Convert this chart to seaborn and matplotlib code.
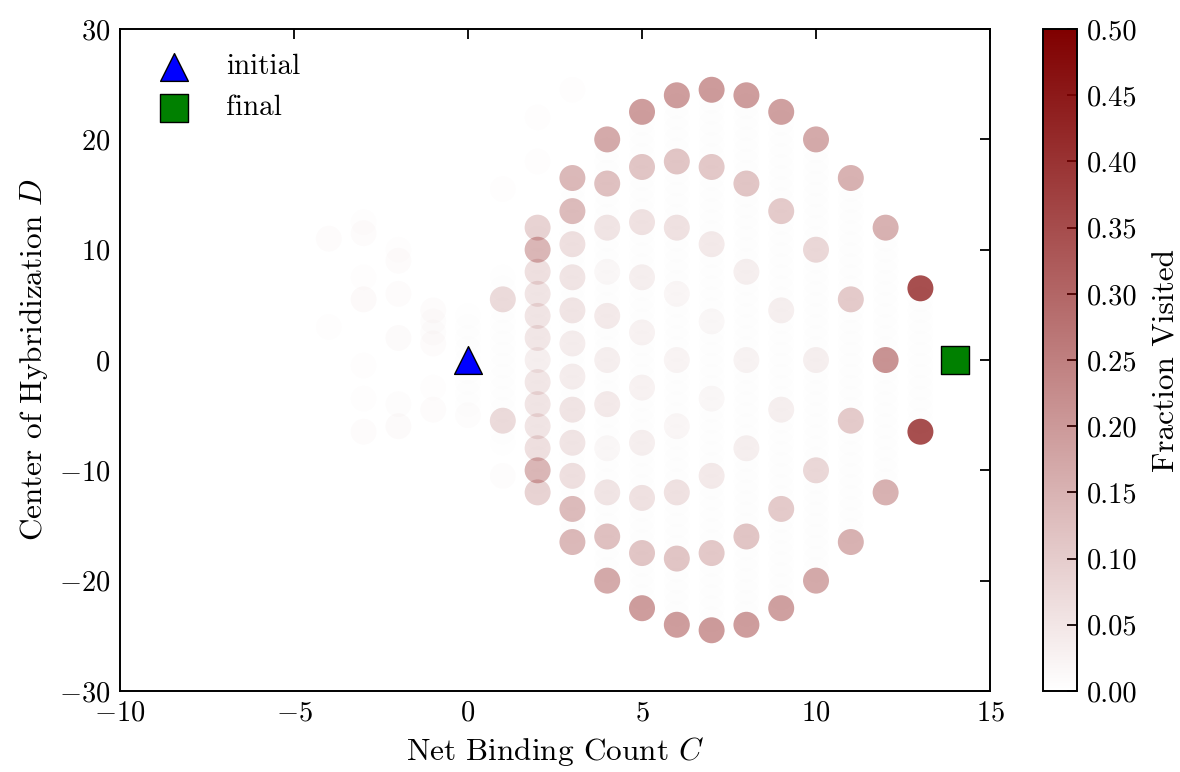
import numpy as np
import pandas as pd
import matplotlib
matplotlib.use("Agg")
import matplotlib.pyplot as plt
from matplotlib.colors import LinearSegmentedColormap, Normalize
from matplotlib.cm import ScalarMappable
import seaborn as sns

# ---- occupancy of (C, D) states with noticeable visiting fraction ----
state_c = [
    13, 13,
    12, 12, 12,
    11, 11, 11, 11,
    10, 10, 10, 10, 10,
    9, 9, 9, 9, 9, 9,
    8, 8, 8, 8, 8, 8, 8,
    7, 7, 7, 7, 7, 7, 7, 7,
    6, 6, 6, 6, 6, 6, 6, 6, 6,
    5, 5, 5, 5, 5, 5, 5, 5, 5, 5,
    4, 4, 4, 4, 4, 4, 4, 4, 4, 4, 4,
    3, 3, 3, 3, 3, 3, 3, 3, 3, 3, 3, 3,
    2, 2, 2, 2, 2, 2, 2, 2, 2, 2, 2, 2, 2,
    1, 1,
]
state_d = [
    6.5, -6.5,
    12, 0, -12,
    16.5, 5.5, -5.5, -16.5,
    20, 10, 0, -10, -20,
    22.5, 13.5, 4.5, -4.5, -13.5, -22.5,
    24, 16, 8, 0, -8, -16, -24,
    24.5, 17.5, 10.5, 3.5, -3.5, -10.5, -17.5, -24.5,
    24, 18, 12, 6, 0, -6, -12, -18, -24,
    22.5, 17.5, 12.5, 7.5, 2.5, -2.5, -7.5, -12.5, -17.5, -22.5,
    20, 16, 12, 8, 4, 0, -4, -8, -12, -16, -20,
    16.5, 13.5, 10.5, 7.5, 4.5, 1.5, -1.5, -4.5, -7.5, -10.5, -13.5, -16.5,
    12, 10, 8, 6, 4, 2, 0, -2, -4, -6, -8, -10, -12,
    5.5, -5.5,
]
state_frac = [
    0.345, 0.345,
    0.15, 0.21, 0.15,
    0.15, 0.10, 0.10, 0.15,
    0.165, 0.075, 0.03, 0.075, 0.165,
    0.185, 0.10, 0.03, 0.03, 0.10, 0.185,
    0.19, 0.11, 0.03, 0.022, 0.03, 0.11, 0.19,
    0.195, 0.105, 0.04, 0.015, 0.015, 0.04, 0.105, 0.195,
    0.19, 0.11, 0.055, 0.017, 0.02, 0.017, 0.055, 0.11, 0.19,
    0.19, 0.11, 0.055, 0.03, 0.025, 0.025, 0.03, 0.055, 0.11, 0.19,
    0.165, 0.12, 0.05, 0.015, 0.04, 0.03, 0.04, 0.015, 0.05, 0.12, 0.165,
    0.135, 0.13, 0.06, 0.05, 0.05, 0.035, 0.035, 0.05, 0.05, 0.06, 0.13, 0.135,
    0.085, 0.14, 0.06, 0.05, 0.05, 0.045, 0.03, 0.045, 0.05, 0.05, 0.06, 0.14, 0.085,
    0.07, 0.07,
]

# ---- rarely visited states ----
rare_c = [-4, -4, -3, -3, -3, -3, -3, -3, -3, -2, -2, -2, -2, -2, -2,
          -1, -1, -1, -1, -1, -1, 0, 1, 1, 2, 2, 3]
rare_d = [11, 3, 12.5, 11.5, 7.5, 5.5, -0.5, -3.5, -6.5, 10, 9, 6, 2, -4, -6,
          4.5, 3.5, 2.5, 1.5, -2.5, -4.5, -5, 15.5, -10.5, 22, 18, 24.5]
rare_frac = [0.008, 0.005, 0.004, 0.009, 0.004, 0.012, 0.005, 0.005, 0.008,
             0.005, 0.008, 0.009, 0.011, 0.006, 0.011,
             0.008, 0.006, 0.006, 0.008, 0.005, 0.008, 0.006, 0.005, 0.006,
             0.004, 0.005, 0.004]

# ---- reachable lattice of each column (half-width of D range) ----
lattice_c = [13, 12, 11, 10, 9, 8, 7, 6, 5, 4, 3, 2, 1, 0]
lattice_dmax = [6.5, 12, 16.5, 20, 22.5, 24, 24.5, 24, 22.5, 20, 16.5, 12, 7.5, 4]
lattice_frac = 0.003

initial_state = (0, 0)
final_state = (14, 0)

# ---- build long-form table ----
lat_c, lat_d = [], []
for c, dm in zip(lattice_c, lattice_dmax):
    ds = np.arange(-dm, dm + 0.01, 1.0)
    lat_c += [c] * len(ds)
    lat_d += list(ds)
lattice = pd.DataFrame({"C": lat_c, "D": lat_d, "frac": lattice_frac})
rare = pd.DataFrame({"C": rare_c, "D": rare_d, "frac": rare_frac})
states = pd.DataFrame({"C": state_c, "D": state_d, "frac": state_frac})
visits = pd.concat([lattice, rare, states], ignore_index=True)

# ---- style ----
sns.set_theme(style="white")
plt.rcParams.update({
    "font.family": "serif",
    "font.serif": ["cmr10"],
    "mathtext.fontset": "cm",
    "axes.formatter.use_mathtext": True,
    "font.size": 20,
    "axes.linewidth": 1.4,
    "axes.edgecolor": "black",
    "xtick.direction": "in",
    "ytick.direction": "in",
    "xtick.major.size": 7.5,
    "ytick.major.size": 7.5,
    "xtick.major.width": 1.3,
    "ytick.major.width": 1.3,
    "xtick.top": True,
    "ytick.right": True,
    "xtick.color": "black",
    "ytick.color": "black",
    "text.color": "black",
    "axes.labelcolor": "black",
})

cmap = LinearSegmentedColormap.from_list(
    "darkred_alpha", [(0.5, 0.0, 0.0, 0.0), (0.5, 0.0, 0.0, 1.0)], N=256)
norm = Normalize(vmin=0.0, vmax=0.5)

fig = plt.figure(figsize=(11.8, 7.72), dpi=100)
ax = fig.add_axes([0.1017, 0.105, 0.7373, 0.8573])
cax = fig.add_axes([0.8839, 0.105, 0.0288, 0.8573])

sns.scatterplot(data=visits, x="C", y="D", hue="frac", palette=cmap,
                hue_norm=norm, s=350, linewidth=0, edgecolor="none",
                legend=False, ax=ax)

ax.scatter([initial_state[0]], [initial_state[1]], marker="^", s=400,
           color="blue", edgecolor="black", linewidth=1, zorder=5,
           label="initial")
ax.scatter([final_state[0]], [final_state[1]], marker="s", s=400,
           color="green", edgecolor="black", linewidth=1, zorder=5,
           label="final")

ax.set_xlim(-10, 15)
ax.set_ylim(-30, 30)
ax.set_xticks([-10, -5, 0, 5, 10, 15])
ax.set_yticks([-30, -20, -10, 0, 10, 20, 30])
ax.set_xlabel("Net Binding Count $C$", fontsize=22.5, labelpad=6)
ax.set_ylabel("Center of Hybridization $D$", fontsize=22.5, labelpad=6)
ax.tick_params(labelsize=20.5, pad=7)

ax.legend(loc="upper left", frameon=False, scatterpoints=1, fontsize=21,
          handletextpad=0.8, borderaxespad=0.5, labelspacing=0.5,
          borderpad=0.35)

sm = ScalarMappable(norm=norm, cmap=cmap)
cbar = fig.colorbar(sm, cax=cax)
cbar.set_ticks(np.arange(0, 0.501, 0.05))
cbar.ax.yaxis.set_major_formatter(matplotlib.ticker.FormatStrFormatter("%.2f"))
cbar.ax.tick_params(direction="in", length=7.5, width=1.3, labelsize=20.5,
                    left=False, right=True, pad=7)
cbar.outline.set_linewidth(1.4)
cbar.solids.set_antialiased(True)
cbar.set_label("Fraction Visited", fontsize=22.5, labelpad=11)

fig.savefig("out.png", dpi=100)
